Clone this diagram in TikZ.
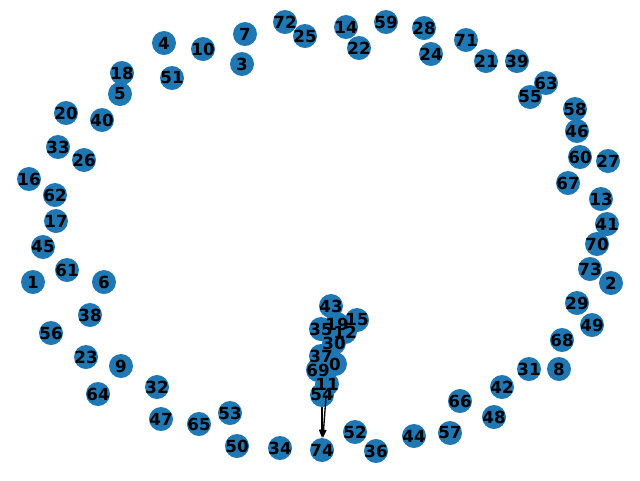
\documentclass[tikz,border=0pt]{standalone}
\usepackage{fontspec}
\setmainfont{DejaVu Sans}
\usetikzlibrary{arrows.meta}
\definecolor{nxblue}{HTML}{1F77B4}
\tikzset{
  vtx/.style={circle, fill=nxblue, draw=none, inner sep=0pt, minimum size=18pt},
  lbl/.style={inner sep=0pt, font=\fontsize{12.5pt}{14pt}\selectfont\bfseries, text=black},
  edg/.style={draw=black, line width=1pt, -{Triangle[length=6pt, width=4.5pt]}}
}
\begin{document}
\begin{tikzpicture}[x=0.75pt, y=-0.75pt]
\useasboundingbox (0,0) rectangle (640,480);
\foreach \n/\x/\y in {0/335/364, 1/33/282, 2/611/283, 3/242/64, 4/164/43, 5/120/94, 6/104/282, 7/245/34, 8/559/369, 9/121/366,
 10/203/49, 11/327/384, 12/345/332, 13/601/199, 14/346/27, 15/357/320, 16/29/179, 17/56/221, 18/122/73, 19/337/324,
 20/66/113, 21/486/61, 22/359/48, 23/86/357, 24/431/54, 25/305/36, 26/84/160, 27/608/161, 28/424/28, 29/577/303,
 30/334/343, 31/529/369, 32/157/387, 33/58/147, 34/280/448, 35/321/329, 36/376/451, 37/321/356, 38/90/315, 39/517/61,
 40/102/120, 41/607/224, 42/502/387, 43/331/306, 44/414/436, 45/43/247, 46/577/131, 47/161/419, 48/494/417, 49/592/325,
 50/237/446, 51/172/78, 52/355/432, 53/230/413, 54/322/395, 55/530/97, 56/51/333, 57/450/433, 58/575/109, 59/386/22,
 60/580/157, 61/67/270, 62/55/195, 63/546/83, 64/98/394, 65/199/424, 66/460/401, 67/568/183, 68/562/340, 69/318/370,
 70/597/244, 71/466/40, 72/285/22, 73/590/269, 74/322/450}
{
  \node[vtx] (v\n) at (\x,\y) {};
}
\draw[edg] (v11) -- (v74);
\draw[edg] (v54) -- (v74);
\foreach \n in {0,...,74}
{
  \node[lbl] (t\n) at (v\n) {\n};
}
\end{tikzpicture}
\end{document}
